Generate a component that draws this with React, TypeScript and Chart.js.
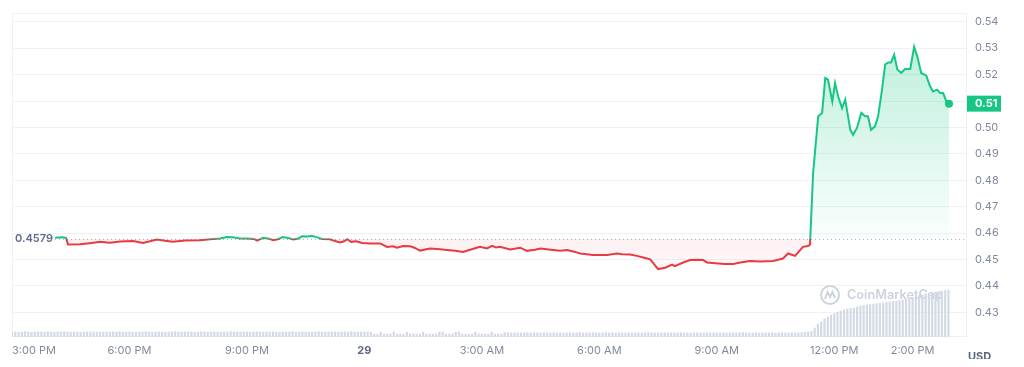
import React, { useEffect, useRef } from "react";
import { Chart, registerables } from "chart.js";

Chart.register(...registerables);

const GREEN = "#16c784";
const RED = "#ea3943";
const BASELINE = 0.4579;

// hours after 3:00 PM
const priceTimes = [
  1.10, 1.28, 1.38, 1.43, 1.74, 2.04, 2.25, 2.50, 2.76, 3.09, 3.35, 3.52, 3.70, 3.91, 4.11, 4.42,
  4.80, 5.06, 5.31, 5.49, 5.64, 5.82, 6.00, 6.18, 6.26, 6.41, 6.54, 6.67, 6.79, 6.92, 7.05, 7.18,
  7.31, 7.41, 7.56, 7.66, 7.79, 7.92, 8.12, 8.25, 8.38, 8.48, 8.56, 8.66, 8.79, 8.94, 9.14, 9.40,
  9.58, 9.73, 9.83, 9.99, 10.17, 10.29, 10.42, 10.68, 10.93, 11.11, 11.32, 11.52, 11.70, 11.95,
  12.13, 12.26, 12.36, 12.46, 12.72, 12.98, 13.15, 13.36, 13.49, 13.82, 14.00, 14.18, 14.38, 14.51,
  14.84, 15.20, 15.45, 15.58, 15.79, 15.96, 16.12, 16.30, 16.50, 16.68, 16.86, 16.93, 17.14, 17.32,
  17.50, 17.65, 17.75, 17.96, 18.21, 18.42, 18.60, 18.85, 19.11, 19.44, 19.69, 19.82, 20.00, 20.20,
  20.33, 20.38, 20.46, 20.59, 20.69, 20.77, 20.84, 20.95, 21.02, 21.10, 21.20, 21.28, 21.41, 21.48,
  21.58, 21.69, 21.79, 21.86, 21.94, 22.04, 22.12, 22.22, 22.30, 22.38, 22.45, 22.53, 22.61, 22.71,
  22.81, 22.94, 23.04, 23.12, 23.22, 23.35, 23.45, 23.52, 23.63, 23.70, 23.78, 23.88, 23.93,
];

const prices = [
  0.4583, 0.4584, 0.4582, 0.4557, 0.4558, 0.4563, 0.4567, 0.4564, 0.4568, 0.4570, 0.4563, 0.4569, 0.4576, 0.4571, 0.4567, 0.4572,
  0.4573, 0.4577, 0.4580, 0.4585, 0.4584, 0.4580, 0.4580, 0.4578, 0.4572, 0.4582, 0.4580, 0.4573, 0.4577, 0.4585, 0.4582, 0.4576,
  0.4580, 0.4588, 0.4587, 0.4590, 0.4584, 0.4578, 0.4577, 0.4570, 0.4565, 0.4569, 0.4577, 0.4567, 0.4569, 0.4563, 0.4561, 0.4561,
  0.4548, 0.4550, 0.4545, 0.4551, 0.4550, 0.4544, 0.4534, 0.4542, 0.4539, 0.4536, 0.4533, 0.4529, 0.4537, 0.4548,
  0.4542, 0.4552, 0.4546, 0.4548, 0.4538, 0.4545, 0.4533, 0.4537, 0.4542, 0.4536, 0.4533, 0.4536, 0.4529, 0.4523,
  0.4517, 0.4517, 0.4523, 0.4520, 0.4519, 0.4514, 0.4508, 0.4501, 0.4464, 0.4469, 0.4481, 0.4475, 0.4489, 0.4498,
  0.4499, 0.4498, 0.4489, 0.4486, 0.4483, 0.4483, 0.4489, 0.4495, 0.4493, 0.4495, 0.4504, 0.4523, 0.4514, 0.4548,
  0.4551, 0.4556, 0.4828, 0.5042, 0.5055, 0.5187, 0.5181, 0.5098, 0.5168, 0.5117, 0.5073, 0.5105, 0.4991, 0.4972,
  0.4998, 0.5055, 0.5042, 0.5042, 0.4991, 0.5004, 0.5042, 0.5143, 0.5238, 0.5246, 0.5246, 0.5275, 0.5219, 0.5206,
  0.5221, 0.5221, 0.5305, 0.5269, 0.5206, 0.5196, 0.5155, 0.5136, 0.5143, 0.5130, 0.5130, 0.5092, 0.5090,
];

// volume (arbitrary units), one bar every 5 minutes from 3:00 PM
const VOLUME_STEP_HOURS = 5 / 60;
const volumes = [
  0.50, 0.52, 0.48, 0.50, 0.55, 0.50, 0.47, 0.50, 0.52, 0.50, 0.49, 0.53,
  0.50, 0.48, 0.51, 0.50, 0.54, 0.50, 0.49, 0.50, 0.52, 0.47, 0.50, 0.51,
  0.50, 0.53, 0.49, 0.50, 0.48, 0.52, 0.50, 0.51, 0.50, 0.55, 0.49, 0.50,
  0.52, 0.50, 0.48, 0.50, 0.51, 0.53, 0.50, 0.49, 0.50, 0.52, 0.50, 0.48,
  0.50, 0.51, 0.54, 0.50, 0.49, 0.50, 0.52, 0.50, 0.47, 0.50, 0.53, 0.50,
  0.49, 0.50, 0.52, 0.50, 0.48, 0.51, 0.50, 0.55, 0.50, 0.49, 0.50, 0.52,
  0.50, 0.48, 0.50, 0.53, 0.50, 0.49, 0.51, 0.50, 0.52, 0.50, 0.47, 0.50,
  0.51, 0.50, 0.54, 0.49, 0.50, 0.52, 0.50, 0.48, 0.50, 0.51, 0.53, 0.50,
  0.49, 0.50, 0.52, 0.50, 0.48, 0.50, 0.51, 0.50, 0.55, 0.50, 0.49, 0.50,
  0.52, 0.50, 0.48, 0.30, 0.28, 0.50, 0.30, 0.29, 0.31, 0.50, 0.30, 0.28,
  0.29, 0.48, 0.30, 0.31, 0.28, 0.30, 0.50, 0.29, 0.30, 0.28, 0.31, 0.49,
  0.50, 0.30, 0.29, 0.31, 0.48, 0.50, 0.30, 0.28, 0.29, 0.30, 0.50, 0.31,
  0.29, 0.30, 0.28, 0.50, 0.30, 0.31, 0.29, 0.45, 0.42, 0.40, 0.43, 0.41,
  0.40, 0.42, 0.44, 0.40, 0.41, 0.43, 0.40, 0.42, 0.40, 0.41, 0.44, 0.40,
  0.42, 0.40, 0.41, 0.43, 0.40, 0.42, 0.45, 0.40, 0.41, 0.40, 0.43, 0.42,
  0.40, 0.41, 0.44, 0.40, 0.42, 0.40, 0.43, 0.41, 0.40, 0.42, 0.40, 0.41,
  0.43, 0.40, 0.42, 0.44, 0.40, 0.41, 0.40, 0.43, 0.42, 0.40, 0.41, 0.40,
  0.42, 0.43, 0.40, 0.41, 0.40, 0.44, 0.42, 0.40, 0.41, 0.43, 0.40, 0.42,
  0.40, 0.41, 0.42, 0.40, 0.43, 0.41, 0.40, 0.42, 0.44, 0.40, 0.41, 0.40,
  0.42, 0.40, 0.43, 0.41, 0.40, 0.42, 0.40, 0.41, 0.44, 0.40, 0.42, 0.41,
  0.40, 0.43, 0.45, 0.48, 0.50,
  0.55, 0.90, 1.30, 1.50, 1.80, 2.00, 2.20, 2.35, 2.50, 2.60, 2.70, 2.80,
  2.85, 2.90, 3.00, 3.10, 3.15, 3.20, 3.25, 3.30, 3.32, 3.35, 3.40, 3.45,
  3.50, 3.55, 3.60, 3.65, 3.70, 3.78, 3.85, 3.95, 4.05, 4.15, 4.22, 4.30,
  4.38, 4.42, 4.48, 4.55, 4.60, 4.65, 4.70,
];

const xTickHours = [0, 3, 6, 9, 12, 15, 18, 21, 23];
const xTickLabels = ["3:00 PM", "6:00 PM", "9:00 PM", "29", "3:00 AM", "6:00 AM", "9:00 AM", "12:00 PM", "2:00 PM"];
const X_MIN = 0;
const X_MAX = 24.39;
const Y_MIN = 0.4207;
const Y_MAX = 0.5433;
const Y_STEP = 0.01;
const VOL_MAX = 32.4;

const W = 1008;
const H = 351;

function clamp01(v: number) {
  return Math.max(0, Math.min(1, v));
}

function lineGradient(chart: any) {
  const { ctx, chartArea, scales } = chart;
  if (!chartArea || !scales || !scales.y) return GREEN;
  const top = chartArea.top;
  const bottom = chartArea.bottom;
  const f = clamp01((scales.y.getPixelForValue(BASELINE) - top) / (bottom - top));
  const g = ctx.createLinearGradient(0, top, 0, bottom);
  g.addColorStop(0, GREEN);
  g.addColorStop(f, GREEN);
  g.addColorStop(Math.min(1, f + 0.0001), RED);
  g.addColorStop(1, RED);
  return g;
}

function fillGradient(chart: any) {
  const { ctx, chartArea, scales } = chart;
  if (!chartArea || !scales || !scales.y) return "rgba(0,0,0,0)";
  const top = chartArea.top;
  const bottom = chartArea.bottom;
  const h = bottom - top;
  const f = clamp01((scales.y.getPixelForValue(BASELINE) - top) / h);
  const g = ctx.createLinearGradient(0, top, 0, bottom);
  g.addColorStop(0, "rgba(22,199,132,0.32)");
  g.addColorStop(f, "rgba(22,199,132,0.02)");
  g.addColorStop(Math.min(1, f + 0.0001), "rgba(234,57,67,0.07)");
  g.addColorStop(Math.min(1, f + 35 / h), "rgba(234,57,67,0.03)");
  g.addColorStop(1, "rgba(234,57,67,0)");
  return g;
}

const decorPlugin = {
  id: "cmcDecor",
  beforeDatasetsDraw(chart: any) {
    const { ctx, chartArea, scales } = chart;
    const { left, right, top, bottom } = chartArea;
    ctx.save();
    // frame
    ctx.strokeStyle = "#eff2f5";
    ctx.lineWidth = 1;
    ctx.strokeRect(left + 0.5, top + 0.5, right - left - 1, bottom - top - 1);

    // watermark
    const cx = right - 137;
    const cy = bottom - 42;
    ctx.strokeStyle = "#cdd3de";
    ctx.lineWidth = 2;
    ctx.beginPath();
    ctx.arc(cx, cy, 9, 0, Math.PI * 2);
    ctx.stroke();
    ctx.beginPath();
    ctx.moveTo(cx - 5, cy + 4);
    ctx.lineTo(cx - 2.5, cy - 3);
    ctx.lineTo(cx, cy + 2);
    ctx.lineTo(cx + 2.5, cy - 3);
    ctx.lineTo(cx + 5, cy + 3);
    ctx.stroke();
    ctx.fillStyle = "#cdd3de";
    ctx.font = "600 15px Inter";
    const txt = "CoinMarketCap";
    const mw = ctx.measureText(txt).width;
    const size = (15 * 96) / mw;
    ctx.font = `600 ${size.toFixed(2)}px Inter`;
    ctx.textBaseline = "middle";
    ctx.textAlign = "left";
    ctx.fillText(txt, right - 120, cy + 0.5);

    // dotted baseline
    const by = Math.round(scales.y.getPixelForValue(BASELINE)) + 0.5;
    const x0 = scales.x.getPixelForValue(priceTimes[0]);
    ctx.strokeStyle = "#a9b0c0";
    ctx.lineWidth = 1;
    ctx.setLineDash([1, 3]);
    ctx.beginPath();
    ctx.moveTo(x0, by);
    ctx.lineTo(right, by);
    ctx.stroke();
    ctx.restore();
  },
  afterDraw(chart: any) {
    const { ctx, chartArea, scales } = chart;
    const { left, right, bottom } = chartArea;
    ctx.save();
    ctx.textBaseline = "middle";
    ctx.textAlign = "left";
    // baseline label
    const by = scales.y.getPixelForValue(BASELINE);
    ctx.font = "600 11px Inter";
    ctx.fillStyle = "#616e85";
    ctx.fillText(BASELINE.toFixed(4), left + 3, by);

    // current price box
    const last = prices[prices.length - 1];
    const py = scales.y.getPixelForValue(last);
    ctx.fillStyle = GREEN;
    ctx.fillRect(right, py - 8, 34, 16);
    ctx.fillStyle = "#ffffff";
    ctx.font = "700 11px Inter";
    ctx.fillText(last.toFixed(2), right + 8, py + 0.5);

    // currency
    ctx.fillStyle = "#58667e";
    ctx.font = "700 11px Inter";
    ctx.fillText("USD", right + 1, bottom + 20);
    ctx.restore();
  },
};

export default function App() {
  const ref = useRef<HTMLCanvasElement | null>(null);

  useEffect(() => {
    if (!ref.current) return;
    const lastIdx = prices.length - 1;
    const chart = new Chart(ref.current, {
      type: "line",
      data: {
        datasets: [
          {
            type: "line",
            label: "Price",
            data: priceTimes.map((t, i) => ({ x: t, y: prices[i] })),
            borderWidth: 2,
            borderColor: (c: any) => lineGradient(c.chart),
            backgroundColor: (c: any) => fillGradient(c.chart),
            fill: { target: { value: BASELINE } },
            tension: 0,
            pointRadius: (c: any) => (c.dataIndex === lastIdx ? 4 : 0),
            pointHoverRadius: 0,
            pointBackgroundColor: GREEN,
            pointBorderWidth: 0,
            yAxisID: "y",
            order: 1,
          } as any,
          {
            type: "bar",
            label: "Volume",
            data: volumes.map((v, i) => ({ x: i * VOLUME_STEP_HOURS, y: v })),
            backgroundColor: "#d3d9e5",
            barThickness: 1.5,
            yAxisID: "yv",
            order: 2,
          } as any,
        ],
      },
      options: {
        responsive: false,
        animation: false,
        events: [],
        layout: { padding: { left: 4, top: 5, right: 0, bottom: 0 } },
        plugins: {
          legend: { display: false },
          tooltip: { enabled: false },
        },
        scales: {
          x: {
            type: "linear",
            min: X_MIN,
            max: X_MAX,
            offset: false,
            grid: { display: false, drawTicks: false, offset: false },
            border: { display: false },
            afterBuildTicks: (scale: any) => {
              scale.ticks = [...xTickHours.map((v) => ({ value: v })), { value: X_MAX }];
            },
            afterFit: (scale: any) => {
              scale.height = 22;
              scale.paddingLeft = 0;
              scale.paddingRight = 0;
            },
            ticks: {
              autoSkip: false,
              maxRotation: 0,
              minRotation: 0,
              align: "inner",
              padding: 7,
              color: (c: any) => (c.index === 3 ? "#58667e" : "#808a9d"),
              font: (c: any) => ({
                family: "Inter",
                size: 11,
                weight: c.index === 3 ? "700" : "400",
              }),
              callback: (value: any) => {
                const i = xTickHours.indexOf(Number(value));
                return i >= 0 ? xTickLabels[i] : "";
              },
            },
          },
          y: {
            type: "linear",
            position: "right",
            min: Y_MIN,
            max: Y_MAX,
            grid: { color: "#eff2f5", drawTicks: false },
            border: { display: false },
            afterFit: (scale: any) => {
              scale.width = W - 959;
              scale.paddingTop = 0;
              scale.paddingBottom = 0;
            },
            ticks: {
              stepSize: Y_STEP,
              includeBounds: false,
              padding: 8,
              color: "#808a9d",
              font: { family: "Inter", size: 11 },
              callback: (v: any) => Number(v).toFixed(2),
            },
          },
          yv: {
            type: "linear",
            display: false,
            min: 0,
            max: VOL_MAX,
            grid: { display: false },
          },
        },
      } as any,
      plugins: [decorPlugin],
    });
    return () => chart.destroy();
  }, []);

  return (
    <div style={{ width: W, height: H }}>
      <canvas ref={ref} width={W} height={H} style={{ display: "block" }} />
    </div>
  );
}
